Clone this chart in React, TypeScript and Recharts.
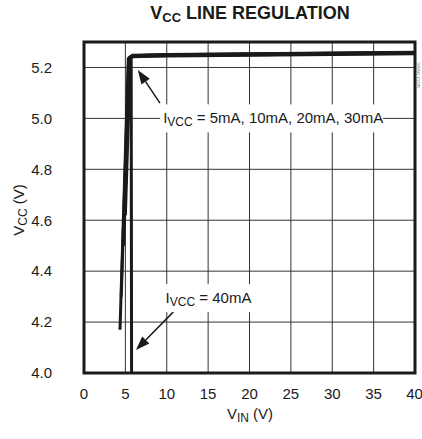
import React from 'react';
import {
  LineChart,
  Line,
  XAxis,
  YAxis,
  CartesianGrid,
  ReferenceArea,
  ReferenceLine,
  ReferenceDot,
} from 'recharts';

// V_IN (V) vs V_CC (V) for each load current
const vin5mA = [4.35, 5.35, 5.6, 10, 20, 30, 40];
const vcc5mA = [4.17, 5.234, 5.242, 5.245, 5.248, 5.251, 5.254];
const vin10mA = [4.5, 5.4, 5.7, 10, 20, 30, 40];
const vcc10mA = [4.3, 5.236, 5.244, 5.247, 5.25, 5.253, 5.256];
const vin20mA = [4.8, 5.5, 5.8, 10, 20, 30, 40];
const vcc20mA = [4.5, 5.238, 5.246, 5.249, 5.252, 5.255, 5.258];
const vin30mA = [5.0, 5.6, 5.9, 10, 20, 30, 40];
const vcc30mA = [4.62, 5.24, 5.248, 5.251, 5.254, 5.257, 5.26];
const vin40mA = [5.75, 5.7, 6.0, 10, 20, 30, 40];
const vcc40mA = [4.0, 5.236, 5.246, 5.25, 5.253, 5.256, 5.259];

const xTicks = [0, 5, 10, 15, 20, 25, 30, 35, 40];
const yTicks = [4.0, 4.2, 4.4, 4.6, 4.8, 5.0, 5.2];

const FONT = '"Liberation Sans", Arial, sans-serif';
const INK = '#1a1a1a';

function toPoints(xs: number[], ys: number[]) {
  return xs.map((x, i) => ({ x, y: ys[i] }));
}

const series = [
  { key: '5mA', data: toPoints(vin5mA, vcc5mA) },
  { key: '10mA', data: toPoints(vin10mA, vcc10mA) },
  { key: '20mA', data: toPoints(vin20mA, vcc20mA) },
  { key: '30mA', data: toPoints(vin30mA, vcc30mA) },
  { key: '40mA', data: toPoints(vin40mA, vcc40mA) },
];

function Arrow(props: any) {
  const { x1, y1, x2, y2 } = props;
  if (x1 == null) return null;
  const ang = Math.atan2(y2 - y1, x2 - x1);
  const len = 14;
  const w = 5;
  const bx = x2 - len * Math.cos(ang);
  const by = y2 - len * Math.sin(ang);
  const px = -Math.sin(ang) * w;
  const py = Math.cos(ang) * w;
  return (
    <g>
      <line x1={x1} y1={y1} x2={bx} y2={by} stroke={INK} strokeWidth={1.5} />
      <polygon
        points={`${x2},${y2} ${bx + px},${by + py} ${bx - px},${by - py}`}
        fill={INK}
      />
    </g>
  );
}

function makeLabel(rest: string, boxW: number) {
  return (p: any) => {
    const { cx, cy } = p;
    if (cx == null) return null;
    return (
      <g>
        <rect x={cx} y={cy - 14} width={boxW} height={28} fill="#fff" />
        <text x={cx + 3} y={cy + 5} fontFamily={FONT} fontSize={15} fill={INK}>
          I
          <tspan fontSize={12} dy={3}>VCC</tspan>
          <tspan dy={-3}>{rest}</tspan>
        </text>
      </g>
    );
  };
}

export default function App() {
  return (
    <div style={{ position: 'absolute', left: 0, top: 0, width: 422, height: 439, background: '#fff' }}>
      <style>{'body{margin:0}'}</style>
      <div
        style={{
          position: 'absolute',
          left: 0,
          width: 500,
          top: 3,
          textAlign: 'center',
          fontFamily: FONT,
          fontWeight: 'bold',
          fontSize: 18,
          color: INK,
        }}
      >
        V<sub style={{ fontSize: 13, verticalAlign: -3 }}>CC</sub> LINE REGULATION
      </div>
      <LineChart
        width={422}
        height={439}
        margin={{ top: 42, right: 7, left: 0, bottom: 0 }}
      >
        <CartesianGrid stroke="#333" strokeWidth={1} />
        <XAxis
          type="number"
          dataKey="x"
          domain={[0, 40]}
          ticks={xTicks}
          height={66}
          allowDataOverflow
          tickSize={0}
          tickMargin={15}
          axisLine={false}
          tick={{ fontSize: 15, fill: INK, fontFamily: FONT }}
        />
        <YAxis
          type="number"
          dataKey="y"
          domain={[4.0, 5.3]}
          ticks={yTicks}
          width={84}
          allowDataOverflow
          tickSize={0}
          tickMargin={32}
          axisLine={false}
          tickFormatter={(v: number) => v.toFixed(1)}
          tick={{ fontSize: 15, fill: INK, fontFamily: FONT }}
        />
        <ReferenceDot x={9.2} y={5.0} r={0} shape={makeLabel(' = 5mA, 10mA, 20mA, 30mA', 223)} />
        <ReferenceDot x={9.5} y={4.294} r={0} shape={makeLabel(' = 40mA', 100)} />
        <ReferenceLine segment={[{ x: 9.18, y: 5.06 }, { x: 6.5, y: 5.19 }]} shape={Arrow} />
        <ReferenceLine segment={[{ x: 11.0, y: 4.247 }, { x: 6.28, y: 4.09 }]} shape={Arrow} />
        {series.map((s) => (
          <Line
            key={s.key}
            data={s.data}
            dataKey="y"
            type="linear"
            stroke={INK}
            strokeWidth={3}
            dot={false}
            isAnimationActive={false}
          />
        ))}
        <ReferenceArea x1={0} x2={40} y1={4.0} y2={5.3} fill="none" stroke={INK} strokeWidth={3} />
      </LineChart>
      <div
        style={{
          position: 'absolute',
          left: 0,
          width: 500,
          top: 405,
          textAlign: 'center',
          fontFamily: FONT,
          fontSize: 15,
          color: INK,
        }}
      >
        V<sub style={{ fontSize: 12, verticalAlign: -3 }}>IN</sub> (V)
      </div>
      <div
        style={{
          position: 'absolute',
          left: 20,
          top: 210,
          transform: 'translate(-50%, -50%) rotate(-90deg)',
          whiteSpace: 'nowrap',
          fontFamily: FONT,
          fontSize: 15,
          color: INK,
        }}
      >
        V<sub style={{ fontSize: 12, verticalAlign: -3 }}>CC</sub> (V)
      </div>
      <div
        style={{
          position: 'absolute',
          left: 418,
          top: 75,
          transform: 'translate(-50%, -50%) rotate(90deg)',
          whiteSpace: 'nowrap',
          fontFamily: FONT,
          fontSize: 6,
          color: '#888',
        }}
      >
        3886 G05
      </div>
    </div>
  );
}
